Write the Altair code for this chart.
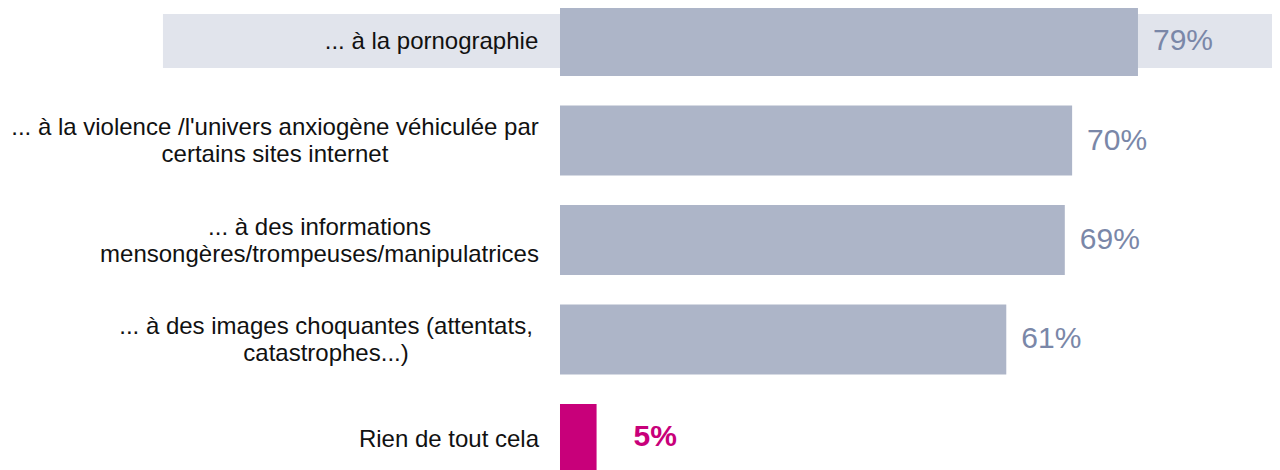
import altair as alt
import pandas as pd

# ---- data ----
categories = [
    "... à la pornographie",
    "... à la violence /l'univers anxiogène véhiculée par\ncertains sites internet",
    "... à des informations\nmensongères/trompeuses/manipulatrices",
    "... à des images choquantes (attentats,\ncatastrophes...)",
    "Rien de tout cela",
]
values = [79, 70, 69, 61, 5]
highlighted = ["Rien de tout cela"]
banded = ["... à la pornographie"]

# ---- style ----
FONT = "Liberation Sans"
BAR = "#adb5c8"
BAND = "#e1e4ec"
VAL = "#7a87a8"
MAG = "#c8007a"
TXT = "#111111"
X_DOMAIN = [-75.45, 97.32]
BAND_START = -54.27
LINE_CENTER_DX = [[-128.5], [-285, -285], [-240.5, -240.5], [-234, -234], [-111]]
LINE_H = 27

df = pd.DataFrame({"cat": categories, "value": values})
df["label"] = [f"{v}%" for v in values]
df["hl"] = df["cat"].isin(highlighted)
df["band"] = df["cat"].isin(banded)

rows = []
for ci, c in enumerate(categories):
    parts = c.split("\n")
    for li, p in enumerate(parts):
        rows.append({"cat": c, "ci": ci, "li": li, "n": len(parts), "text": p})
lines_df = pd.DataFrame(rows)

xs = alt.Scale(domain=X_DOMAIN, nice=False, zero=False)
ys = alt.Scale(domain=categories, range=[-2, 466], paddingInner=0.296, paddingOuter=0)
Y = alt.Y("cat:N", scale=ys, axis=None)

band = (
    alt.Chart(df)
    .transform_filter("datum.band")
    .mark_bar(color=BAND, size=54)
    .encode(x=alt.X(datum=BAND_START, scale=xs, axis=None), x2=alt.datum(X_DOMAIN[1]), y=Y)
)

bars = (
    alt.Chart(df)
    .mark_bar()
    .encode(
        x=alt.X("value:Q", scale=xs, axis=None),
        x2=alt.datum(0),
        y=Y,
        color=alt.condition("datum.hl", alt.value(MAG), alt.value(BAR)),
    )
)

labels = []
for ci, c in enumerate(categories):
    n = len(c.split("\n"))
    for li in range(n):
        labels.append(
            alt.Chart(lines_df)
            .transform_filter(f"datum.ci == {ci} && datum.li == {li}")
            .mark_text(
                align="center",
                baseline="middle",
                dx=LINE_CENTER_DX[ci][li],
                dy=(li - (n - 1) / 2) * LINE_H + 1,
                fontSize=24,
                font=FONT,
                color=TXT,
            )
            .encode(x=alt.X(datum=0, scale=xs, axis=None), y=Y, text="text:N")
        )

vals = (
    alt.Chart(df)
    .transform_filter("!datum.hl")
    .mark_text(align="left", baseline="middle", dx=15, dy=0, fontSize=30, font=FONT, color=VAL)
    .encode(x=alt.X("value:Q", scale=xs, axis=None), y=Y, text="label:N")
)
hl_vals = (
    alt.Chart(df)
    .transform_filter("datum.hl")
    .mark_text(align="left", baseline="middle", dx=37, dy=-2, fontSize=30, fontWeight="bold",
               font=FONT, color=MAG)
    .encode(x=alt.X("value:Q", scale=xs, axis=None), y=Y, text="label:N")
)

chart = (
    alt.layer(band, bars, *labels, vals, hl_vals)
    .properties(width=1264, height=462, autosize=alt.AutoSizeParams(type="none"), padding=0)
    .configure_view(stroke=None)
)

chart.save("out.html", embed_options={"renderer": "svg", "actions": False})
